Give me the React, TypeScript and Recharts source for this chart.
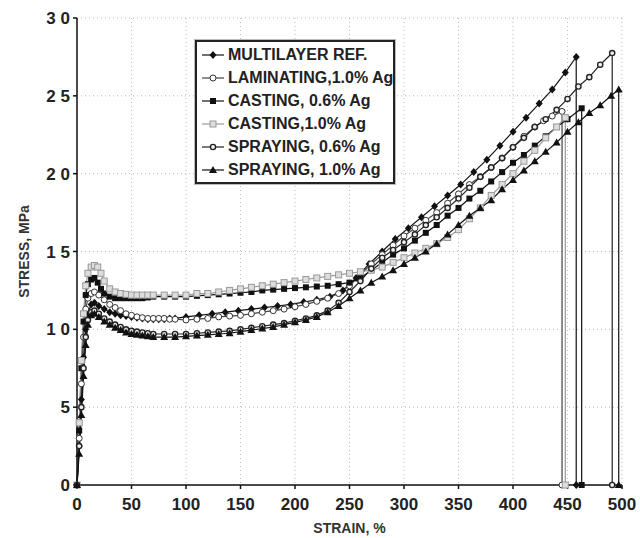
import React from 'react'
import { LineChart, Line, XAxis, YAxis, CartesianGrid, Legend } from 'recharts'

const xTicks = [0, 50, 100, 150, 200, 250, 300, 350, 400, 450, 500]
const yTicks = [0, 5, 10, 15, 20, 25, 30]

type Pt = { x: number; y: number }
const pts = (arr: number[][]): Pt[] => arr.map(([x, y]) => ({ x, y }))

const multilayerRef = pts([
  [0, 0], [2, 2.5], [4, 5.5], [6, 8.2], [8, 10.0], [10, 11.0], [13, 11.6], [16, 11.7], [20, 11.5],
  [25, 11.3], [30, 11.1], [35, 11.0], [40, 10.9], [45, 10.85], [50, 10.8], [55, 10.75], [60, 10.7],
  [65, 10.65], [70, 10.65], [75, 10.65], [80, 10.65], [85, 10.7], [90, 10.7], [100, 10.8], [112, 10.9],
  [124, 11.0], [136, 11.1], [148, 11.2], [160, 11.3], [172, 11.4], [184, 11.5], [196, 11.6], [208, 11.75],
  [220, 11.9], [232, 12.1], [244, 12.5], [256, 13.3], [268, 14.2], [280, 15.0], [292, 15.8], [304, 16.5],
  [316, 17.2], [328, 17.9], [340, 18.6], [352, 19.3], [364, 20.1], [376, 20.9], [388, 21.8], [400, 22.7],
  [412, 23.6], [424, 24.5], [436, 25.4], [448, 26.5], [458, 27.5], [458, 0],
])

const laminating10 = pts([
  [0, 0], [2, 3], [4, 6.5], [6, 9.5], [8, 11.3], [10, 12.0], [13, 12.3], [16, 12.4], [20, 12.2],
  [25, 11.9], [30, 11.6], [35, 11.4], [40, 11.2], [45, 11.0], [50, 10.9], [55, 10.8], [60, 10.75],
  [65, 10.7], [70, 10.7], [75, 10.7], [80, 10.7], [85, 10.65], [90, 10.65], [100, 10.6], [110, 10.65],
  [120, 10.7], [130, 10.8], [140, 10.85], [150, 10.9], [160, 11.0], [170, 11.1], [180, 11.2], [190, 11.3],
  [200, 11.45], [210, 11.6], [220, 11.8], [230, 12.0], [240, 12.3], [250, 12.8], [260, 13.5], [270, 14.2],
  [280, 14.8], [290, 15.4], [300, 16.0], [310, 16.5], [320, 17.0], [330, 17.5], [340, 18.1], [350, 18.7],
  [360, 19.3], [370, 19.8], [380, 20.4], [390, 21.0], [400, 21.7], [410, 22.4], [420, 23.0], [428, 23.4],
  [436, 23.7], [445, 24.0], [445, 0],
])

const casting06 = pts([
  [0, 0], [2, 3.5], [4, 7.5], [6, 10.5], [8, 12.2], [10, 12.9], [13, 13.2], [16, 13.3], [19, 13.0],
  [22, 12.6], [25, 12.3], [30, 12.1], [35, 12.0], [40, 12.0], [45, 12.0], [50, 12.0], [55, 12.0],
  [60, 12.0], [65, 12.05], [70, 12.1], [80, 12.1], [90, 12.1], [100, 12.1], [110, 12.15], [120, 12.2],
  [130, 12.25], [140, 12.3], [150, 12.35], [160, 12.4], [170, 12.5], [180, 12.55], [190, 12.6],
  [200, 12.65], [210, 12.7], [220, 12.75], [230, 12.8], [240, 12.9], [250, 13.0], [260, 13.3],
  [270, 13.8], [280, 14.3], [290, 14.8], [300, 15.2], [310, 15.7], [320, 16.2], [330, 16.7], [340, 17.3],
  [350, 17.8], [360, 18.4], [370, 18.9], [380, 19.5], [390, 20.1], [400, 20.7], [410, 21.2], [420, 21.8],
  [430, 22.4], [440, 23.0], [450, 23.5], [463, 24.2], [463, 0],
])

const casting10 = pts([
  [0, 0], [2, 4], [4, 8], [6, 11], [8, 12.8], [10, 13.6], [13, 14.0], [16, 14.1], [19, 14.0],
  [22, 13.6], [25, 13.1], [30, 12.6], [35, 12.4], [40, 12.3], [45, 12.25], [50, 12.2], [55, 12.2],
  [60, 12.2], [65, 12.2], [70, 12.2], [80, 12.2], [90, 12.2], [100, 12.2], [110, 12.3], [120, 12.3],
  [130, 12.4], [140, 12.5], [150, 12.6], [160, 12.7], [170, 12.8], [180, 12.9], [190, 13.0], [200, 13.1],
  [210, 13.2], [220, 13.3], [230, 13.4], [240, 13.5], [250, 13.6], [260, 13.7], [270, 13.8], [280, 14.0],
  [290, 14.3], [300, 14.6], [310, 14.9], [320, 15.2], [330, 15.5], [340, 15.9], [350, 16.4], [360, 17.1],
  [370, 17.8], [380, 18.6], [390, 19.3], [400, 20.0], [410, 20.8], [420, 21.5], [430, 22.3], [440, 23.0],
  [448, 23.6], [448, 0],
])

const spraying06 = pts([
  [0, 0], [2, 2.5], [4, 5], [6, 7.5], [8, 9.5], [10, 10.6], [13, 11.1], [16, 11.2], [20, 11.0],
  [25, 10.7], [30, 10.5], [35, 10.3], [40, 10.15], [45, 10.0], [50, 9.9], [55, 9.85], [60, 9.8],
  [65, 9.75], [70, 9.7], [80, 9.7], [90, 9.7], [100, 9.7], [110, 9.75], [120, 9.8], [130, 9.85],
  [140, 9.9], [150, 10.0], [160, 10.1], [170, 10.2], [180, 10.3], [190, 10.4], [200, 10.55], [210, 10.7],
  [220, 10.9], [230, 11.2], [240, 11.7], [250, 12.4], [260, 13.1], [270, 13.9], [280, 14.6], [290, 15.1],
  [300, 15.6], [310, 16.1], [320, 16.7], [330, 17.2], [340, 17.8], [350, 18.4], [360, 19.1], [370, 19.8],
  [380, 20.4], [390, 21.0], [400, 21.7], [410, 22.3], [420, 23.0], [430, 23.5], [440, 24.1], [450, 24.8],
  [460, 25.6], [470, 26.2], [480, 27.0], [491, 27.75], [491, 0],
])

const spraying10 = pts([
  [0, 0], [2, 2], [4, 4.5], [6, 7], [8, 9], [10, 10.3], [13, 10.9], [16, 11.0], [20, 10.8],
  [25, 10.5], [30, 10.3], [35, 10.1], [40, 9.95], [45, 9.8], [50, 9.7], [55, 9.65], [60, 9.6],
  [65, 9.55], [70, 9.5], [80, 9.5], [90, 9.5], [100, 9.55], [110, 9.6], [120, 9.65], [130, 9.7],
  [140, 9.75], [150, 9.85], [160, 9.95], [170, 10.05], [180, 10.15], [190, 10.3], [200, 10.45],
  [210, 10.6], [220, 10.8], [230, 11.1], [240, 11.5], [250, 12.0], [260, 12.5], [270, 13.0], [280, 13.4],
  [290, 13.8], [300, 14.2], [310, 14.6], [320, 15.0], [330, 15.5], [340, 16.1], [350, 16.7], [360, 17.3],
  [370, 17.8], [380, 18.3], [390, 19.0], [400, 19.6], [410, 20.2], [420, 20.8], [430, 21.4], [440, 22.0],
  [450, 22.7], [460, 23.3], [470, 23.9], [480, 24.4], [490, 25.0], [497, 25.4], [497, 0],
])

type Marker = 'diamond' | 'circle' | 'square' | 'graySquare' | 'smallCircle' | 'triangle'

const MarkerShape = ({ kind, cx, cy }: { kind: Marker; cx: number; cy: number }) => {
  if (cx == null || cy == null) return null
  switch (kind) {
    case 'diamond':
      return <path d={`M${cx},${cy - 4}L${cx + 3.5},${cy}L${cx},${cy + 4}L${cx - 3.5},${cy}Z`} fill="#111" />
    case 'circle':
      return <circle cx={cx} cy={cy} r={3} fill="#fff" stroke="#333" strokeWidth={1} />
    case 'square':
      return <rect x={cx - 3} y={cy - 3} width={6} height={6} fill="#111" />
    case 'graySquare':
      return <rect x={cx - 3} y={cy - 3} width={6} height={6} fill="#ddd" stroke="#999" strokeWidth={1} />
    case 'smallCircle':
      return <circle cx={cx} cy={cy} r={2.6} fill="#eee" stroke="#222" strokeWidth={1.4} />
    case 'triangle':
      return <path d={`M${cx},${cy - 4}L${cx + 4},${cy + 3}L${cx - 4},${cy + 3}Z`} fill="#111" />
  }
  return null
}

const dotFor = (kind: Marker) => (props: any) => (
  <MarkerShape key={`${kind}-${props.index}`} kind={kind} cx={props.cx} cy={props.cy} />
)

const series: { name: string; data: Pt[]; kind: Marker; color: string }[] = [
  { name: 'MULTILAYER REF.', data: multilayerRef, kind: 'diamond', color: '#111' },
  { name: 'LAMINATING,1.0% Ag', data: laminating10, kind: 'circle', color: '#444' },
  { name: 'CASTING, 0.6% Ag', data: casting06, kind: 'square', color: '#111' },
  { name: 'CASTING,1.0% Ag', data: casting10, kind: 'graySquare', color: '#999' },
  { name: 'SPRAYING, 0.6% Ag', data: spraying06, kind: 'smallCircle', color: '#222' },
  { name: 'SPRAYING, 1.0% Ag', data: spraying10, kind: 'triangle', color: '#111' },
]

const font = '"Liberation Sans", Arial, sans-serif'

const LegendBox = () => (
  <div
    style={{
      position: 'absolute',
      left: 195,
      top: 40,
      width: 200,
      height: 144,
      border: '2px solid #222',
      boxShadow: '0 0 0 1px #bbb',
      background: '#fff',
      fontFamily: font,
      fontWeight: 'bold',
      fontSize: 16,
      color: '#222',
      padding: '1px 0 0 4px',
      boxSizing: 'border-box',
      overflow: 'hidden',
    }}
  >
    {series.map((s) => (
      <div key={s.name} style={{ display: 'flex', alignItems: 'center', height: 23 }}>
        <svg width={24} height={12} style={{ marginRight: 3, flex: 'none' }}>
          <line x1={1} y1={6} x2={23} y2={6} stroke={s.color} strokeWidth={1.2} />
          <MarkerShape kind={s.kind} cx={12} cy={6} />
        </svg>
        <span style={{ whiteSpace: 'nowrap' }}>{s.name}</span>
      </div>
    ))}
  </div>
)

const spaced = (v: number) => String(v).split('').join(' ')

export default function App() {
  return (
    <div style={{ position: 'absolute', left: 0, top: 0, width: 640, height: 538, background: '#fff' }}>
      <LineChart width={640} height={538} margin={{ top: 18, right: 18, bottom: 0, left: 0 }}>
        <CartesianGrid stroke="#bbb" strokeDasharray="1 3" />
        <XAxis
          type="number"
          dataKey="x"
          domain={[0, 500]}
          ticks={xTicks}
          height={53}
          stroke="#111"
          strokeWidth={1.5}
          tickSize={4}
          tickMargin={9}
          tick={{ fill: '#222', fontSize: 17, fontWeight: 'bold', fontFamily: font }}
          label={{ value: 'STRAIN, %', position: 'insideBottom', offset: 5, fill: '#333', fontSize: 14, fontWeight: 'bold', fontFamily: font }}
        />
        <YAxis
          type="number"
          dataKey="y"
          domain={[0, 30]}
          ticks={yTicks}
          width={77}
          stroke="#111"
          strokeWidth={1.5}
          tickSize={4}
          tickMargin={3}
          tickFormatter={spaced}
          tick={{ fill: '#222', fontSize: 17, fontWeight: 'bold', fontFamily: font }}
          label={{ value: 'STRESS, MPa', angle: -90, position: 'insideLeft', offset: 24, fill: '#333', fontSize: 14, fontWeight: 'bold', fontFamily: font, style: { textAnchor: 'middle' } }}
        />
        {series.map((s) => (
          <Line
            key={s.name}
            data={s.data}
            dataKey="y"
            name={s.name}
            type="linear"
            stroke={s.color}
            strokeWidth={1.2}
            dot={dotFor(s.kind)}
            activeDot={false}
            isAnimationActive={false}
          />
        ))}
        <Legend content={() => null} />
      </LineChart>
      <LegendBox />
    </div>
  )
}
